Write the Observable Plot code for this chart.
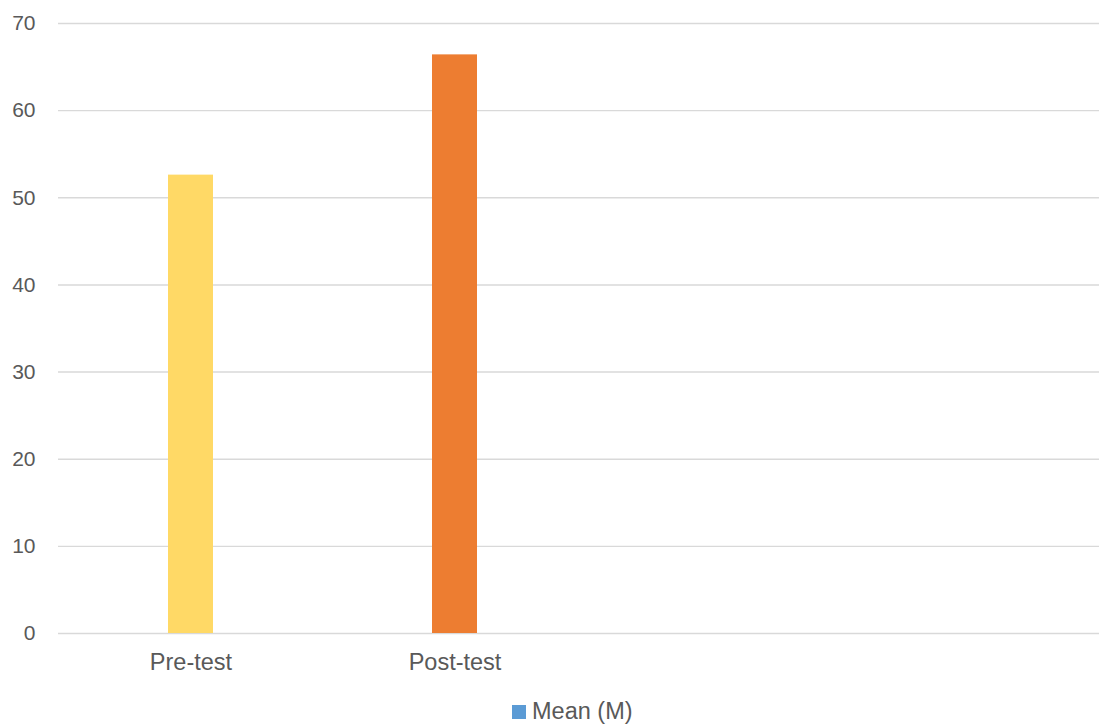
<!DOCTYPE html>
<html>
<head>
<meta charset="utf-8">
<script src="https://cdn.jsdelivr.net/npm/d3@7"></script>
<script src="https://cdn.jsdelivr.net/npm/@observablehq/plot@0.6"></script>
<style>
  html, body { margin: 0; padding: 0; background: #fff; }
  #chart { width: 1101px; }
  .legend { height: 35px; position: relative; font-family: "Liberation Sans", Arial, sans-serif; font-size: 23.5px; color: #595959; }
  .legend .item { position: absolute; left: 512px; top: 8px; display: flex; align-items: center; }
  .legend .sw { width: 14px; height: 14px; margin-right: 6px; }
</style>
</head>
<body>
<div id="chart"></div>
<script>
const categories = ["Pre-test", "Post-test"];
const values = [52.6, 66.4];
const barColors = ["#FFD966", "#ED7D31"];
const yTicks = [0, 10, 20, 30, 40, 50, 60, 70];
const seriesName = "Mean (M)";
const legendColor = "#5B9BD5";

const data = categories.map((c, i) => ({category: c, value: values[i]}));

const chart = Plot.plot({
  width: 1101,
  height: 690,
  marginLeft: 58,
  marginRight: 2,
  marginTop: 23,
  marginBottom: 57,
  style: {fontFamily: "'Liberation Sans', Arial, sans-serif", background: "#fff"},
  x: {domain: categories, range: [58, 586], paddingInner: 0.83, paddingOuter: 0.415, label: null},
  y: {domain: [0, 70], label: null},
  color: {domain: categories, range: barColors},
  marks: [
    Plot.gridY(yTicks, {stroke: "#D9D9D9", strokeOpacity: 1, strokeWidth: 1.4}),
    Plot.barY(data, {x: "category", y: "value", fill: "category"}),
    Plot.axisY(yTicks, {tickSize: 0, tickPadding: 23, fontSize: 21, fill: "#595959", label: null}),
    Plot.axisX({tickSize: 0, tickPadding: 20, fontSize: 23.5, fill: "#595959", label: null})
  ]
});
document.getElementById("chart").appendChild(chart);

const legend = document.createElement("div");
legend.className = "legend";
legend.innerHTML = `<div class="item"><span class="sw" style="background:${legendColor}"></span><span>${seriesName}</span></div>`;
document.body.appendChild(legend);
</script>
</body>
</html>
